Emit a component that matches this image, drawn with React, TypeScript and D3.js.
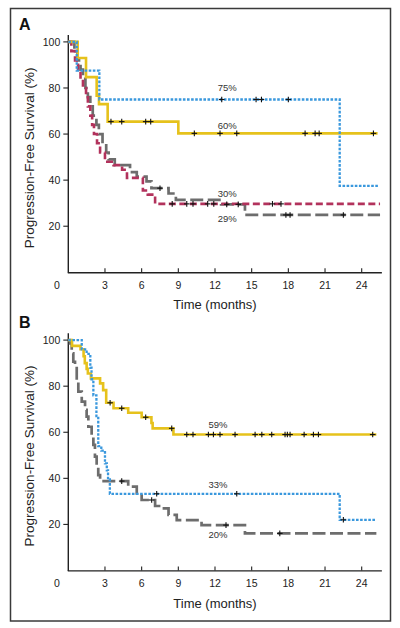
import React from 'react';
import * as d3 from 'd3';

// ---------- data ----------
const xTickValues = [3, 6, 9, 12, 15, 18, 21, 24];
const yTickValues = [20, 40, 60, 80, 100];

// Panel A — step curves: [time (months), survival (%)], last point = end of follow-up
const aYellow = [[0, 100], [0.77, 93], [1.45, 84.7], [2.32, 76.6], [2.51, 73], [3.22, 65.4], [9.0, 60.3], [25.3, 60.3]];
const aBlue = [[0, 100], [0.69, 87.5], [2.54, 75], [22.2, 37.5], [25.4, 37.5]];
const aRed = [[0, 100], [0.25, 96], [0.55, 92], [0.8, 88], [1.0, 84], [1.2, 80], [1.45, 76], [1.6, 72], [1.8, 68], [1.95, 64], [2.1, 60], [2.35, 56], [2.6, 52], [3.0, 48], [3.7, 46.5], [4.4, 44.5], [4.8, 41], [6.1, 35.5], [6.5, 33.7], [7.1, 29.7], [25.5, 29.7]];
const aGray = [[0, 100], [0.5, 96], [0.75, 92], [1.0, 88], [1.2, 84], [1.4, 80], [1.6, 76], [1.8, 72], [2.0, 68], [2.3, 64], [2.5, 60], [2.8, 56], [3.1, 52], [3.3, 49], [3.8, 46.5], [5.05, 43.5], [5.6, 41.5], [6.4, 39.5], [6.8, 36.5], [8.2, 34.2], [8.8, 31.4], [12.5, 29.5], [14.45, 24.9], [25.5, 24.9]];

const aYellowCens = [[3.49, 65.4], [4.37, 65.4], [6.33, 65.4], [6.74, 65.4], [10.31, 60.3], [12.41, 60.3], [13.78, 60.3], [19.37, 60.3], [20.19, 60.3], [20.52, 60.3], [24.96, 60.3]];
const aBlueCens = [[12.55, 75], [15.36, 75], [15.8, 75], [18.0, 75]];
const aRedCens = [[8.5, 29.7], [9.69, 29.7], [10.2, 29.7], [11.4, 29.7], [11.9, 29.7], [16.7, 29.7], [17.4, 29.7]];
const aGrayCens = [[7.5, 36.5], [12.96, 29.5], [13.9, 29.5], [17.8, 24.9], [18.14, 24.9], [22.5, 24.9]];

// Panel B
const bYellow = [[0, 100], [0.3, 97.5], [1.0, 96], [1.25, 93], [1.35, 90], [1.5, 87.5], [1.6, 85.5], [1.85, 83.4], [2.6, 81.2], [2.85, 78.3], [3.1, 72.8], [3.7, 70.4], [4.9, 68.5], [6.0, 66.5], [6.8, 64], [6.9, 61.7], [8.6, 59], [25.2, 59]];
const bBlue = [[0, 100], [1.1, 96], [1.5, 94], [1.8, 88], [1.9, 83], [2.05, 76], [2.3, 67], [2.45, 54], [2.7, 52], [3.0, 46.5], [3.15, 43.5], [3.25, 39.5], [3.4, 33.3], [22.2, 22], [25.2, 22]];
const bGray = [[0, 100], [0.14, 98.6], [0.28, 94.3], [0.41, 90.6], [0.55, 88.5], [0.69, 82.7], [0.82, 77.6], [1.1, 73.3], [1.37, 69.7], [1.5, 66.8], [1.64, 62.4], [1.91, 58.1], [2.05, 54.5], [2.18, 49.4], [2.32, 45.1], [2.45, 41.4], [2.6, 38.8], [4.9, 36.4], [5.6, 33.5], [6.0, 30.6], [7.1, 28], [7.6, 27], [8.2, 24.1], [8.87, 21.9], [10.9, 19.7], [14.45, 16.1], [25.2, 16.1]];

const bYellowCens = [[3.42, 72.8], [4.37, 70.4], [6.33, 66.5], [8.46, 61.7], [9.69, 59], [10.2, 59], [11.46, 59], [11.87, 59], [12.41, 59], [13.64, 59], [15.28, 59], [15.83, 59], [16.64, 59], [17.73, 59], [17.92, 59], [18.14, 59], [19.29, 59], [20.05, 59], [20.46, 59], [24.9, 59]];
const bBlueCens = [[7.23, 33.3], [13.78, 33.3], [22.5, 22]];
const bGrayCens = [[4.37, 38.8], [6.82, 30.6], [12.9, 19.7], [17.3, 16.1]];

// percentage annotations: [text, time, survival]
const aLabels: [string, number, number][] = [['75%', 13.0, 80], ['60%', 13.0, 63.5], ['30%', 13.0, 34], ['29%', 13.0, 23.4]];
const bLabels: [string, number, number][] = [['59%', 12.25, 63.5], ['33%', 12.25, 37.4], ['20%', 12.25, 15.4]];

// ---------- styles ----------
const FONT = '"Liberation Sans", Arial, Helvetica, sans-serif';
const styles: Record<string, { color: string; width: number; dash: string | null }> = {
  gray: { color: '#6d6d6d', width: 2.7, dash: '13,4.5' },
  red: { color: '#b2325c', width: 2.6, dash: '7,3.5' },
  yellow: { color: '#e6c21c', width: 2.6, dash: null },
  blue: { color: '#3a98dd', width: 2.3, dash: '2.6,1.5' },
};

type Curve = { key: string; steps: number[][]; cens: number[][] };
type Panel = { letter: string; offset: number; curves: Curve[]; labels: [string, number, number][] };

const panels: Panel[] = [
  {
    letter: 'A', offset: 0, labels: aLabels,
    curves: [
      { key: 'gray', steps: aGray, cens: aGrayCens },
      { key: 'red', steps: aRed, cens: aRedCens },
      { key: 'yellow', steps: aYellow, cens: aYellowCens },
      { key: 'blue', steps: aBlue, cens: aBlueCens },
    ],
  },
  {
    letter: 'B', offset: 298.2, labels: bLabels,
    curves: [
      { key: 'gray', steps: bGray, cens: bGrayCens },
      { key: 'yellow', steps: bYellow, cens: bYellowCens },
      { key: 'blue', steps: bBlue, cens: bBlueCens },
    ],
  },
];

const x = d3.scaleLinear().domain([0, 24]).range([68.3, 361.7]);
const xAxisMax = 25.65;
const yAxisMax = 103;

function PanelView({ p }: { p: Panel }) {
  const y = d3.scaleLinear().domain([0, 100]).range([272.3 + p.offset, 41.9 + p.offset]);
  const line = d3.line<number[]>().x(d => x(d[0])).y(d => y(d[1])).curve(d3.curveStepAfter);
  const y0 = y(0);
  return (
    <g>
      <text x={19} y={30 + p.offset} fontFamily={FONT} fontWeight="bold" fontSize={16} fill="#111">{p.letter}</text>
      {/* axes */}
      <line x1={x(0)} x2={x(0)} y1={y(yAxisMax)} y2={y0 + 0.5} stroke="#222" strokeWidth={1.4} />
      <line x1={x(0) - 0.5} x2={x(xAxisMax)} y1={y0 + 0.4} y2={y0 + 0.4} stroke="#222" strokeWidth={1.4} />
      {yTickValues.map(v => (
        <g key={'y' + v}>
          <line x1={x(0) - 5} x2={x(0)} y1={y(v)} y2={y(v)} stroke="#222" strokeWidth={1.1} />
          <text x={x(0) - 8} y={y(v)} dy="0.35em" textAnchor="end" fontFamily={FONT} fontSize={10.5} fill="#222">{v}</text>
        </g>
      ))}
      {xTickValues.map(t => (
        <g key={'x' + t}>
          <line x1={x(t)} x2={x(t)} y1={y0} y2={y0 - 4} stroke="#222" strokeWidth={1.1} />
          <text x={x(t)} y={y0 + 12.6} dy="0.35em" textAnchor="middle" fontFamily={FONT} fontSize={10.5} fill="#222">{t}</text>
        </g>
      ))}
      <text x={57} y={y0 + 12.6} dy="0.35em" textAnchor="middle" fontFamily={FONT} fontSize={10.5} fill="#222">0</text>
      <text x={215} y={309.3 + p.offset} textAnchor="middle" fontFamily={FONT} fontSize={13} fill="#222">Time (months)</text>
      <text transform={`translate(33.7,${157.8 + p.offset}) rotate(-90)`} textAnchor="middle" fontFamily={FONT} fontSize={13.5} fill="#222">Progression-Free Survival (%)</text>
      {/* curves */}
      {p.curves.map(c => {
        const s = styles[c.key];
        return (
          <path key={c.key} d={line(c.steps) || ''} fill="none" stroke={s.color} strokeWidth={s.width}
            strokeDasharray={s.dash || undefined} />
        );
      })}
      {/* censor marks */}
      {p.curves.map(c => c.cens.map((d, i) => (
        <g key={c.key + 'c' + i} stroke="#111" strokeWidth={1.1}>
          <line x1={x(d[0]) - 2.8} x2={x(d[0]) + 2.8} y1={y(d[1])} y2={y(d[1])} />
          <line x1={x(d[0])} x2={x(d[0])} y1={y(d[1]) - 2.8} y2={y(d[1]) + 2.8} />
        </g>
      )))}
      {p.labels.map(([txt, t, v]) => (
        <text key={txt} x={x(t)} y={y(v)} dy="0.35em" textAnchor="middle" fontFamily={FONT} fontSize={9.5} fill="#333">{txt}</text>
      ))}
    </g>
  );
}

export default function App() {
  return (
    <svg width={400} height={628} style={{ position: 'absolute', left: 0, top: 0, background: '#fff' }}>
      <rect x={0} y={0} width={400} height={628} fill="#fff" />
      <rect x={10.5} y={8.5} width={380} height={612.5} fill="none" stroke="#3a3a3a" strokeWidth={1.5} />
      {panels.map(p => <PanelView key={p.letter} p={p} />)}
    </svg>
  );
}
